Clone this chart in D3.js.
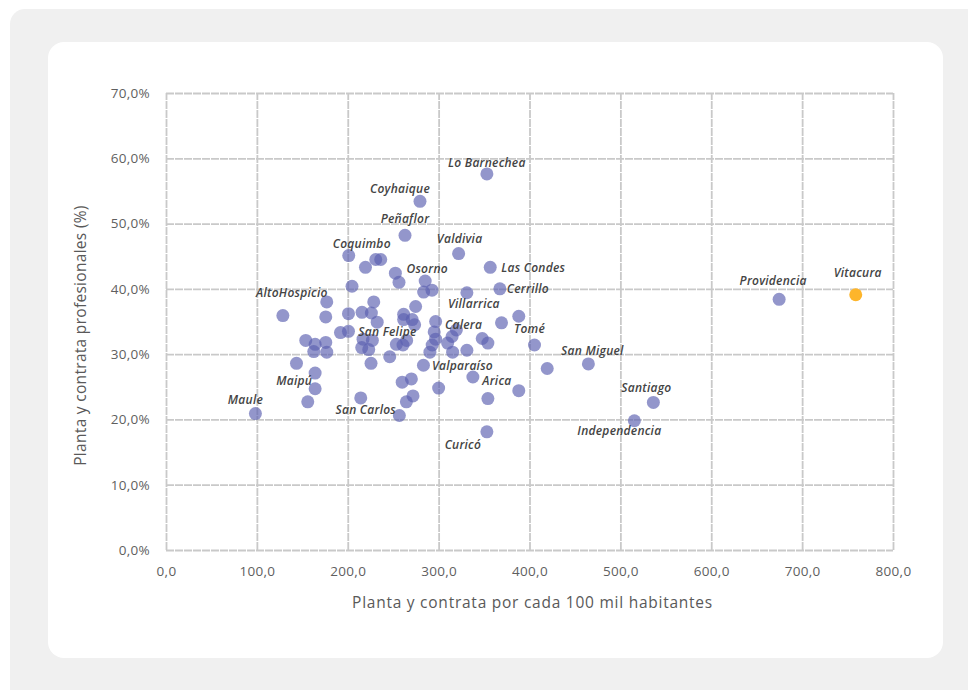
<!DOCTYPE html>
<html>
<head>
<meta charset="utf-8">
<script src="https://cdn.jsdelivr.net/npm/d3@7"></script>
<style>
	body{margin:0;background:#ffffff;}
	svg{display:block;font-family:"Open Sans",sans-serif;}
</style>
</head>
<body>
<div id="ChartPart"></div>
<script>
//Data of the chart-----------------------------------------------------------------------------------------------------------------------
var communes = ["Maule","AltoHospicio","","","","","","","Maipú","","","","","","San Felipe","","","Coquimbo","San Carlos","","",
	"","","","","","","","","","","","","","","","","","","","Peñaflor","","","","","","","","Coyhaique","","Valparaíso","Osorno",
	"","","","","Calera","","","","","","","Valdivia","Villarrica","","Arica","","Lo Barnechea","Curicó","","","Las Condes",
	"Cerrillo","Tomé","","","","","San Miguel","Independencia","Santiago","Providencia","Vitacura"];

var perHabitants = [98.4,128.6,143.6,153.8,156.0,162.6,164.1,164.1,164.1,175.8,176.9,175.8,176.9,192.0,200.8,200.8,204.7,201.1,214.3,215.4,215.7,
	216.8,219.5,223.1,226.0,225.6,227.1,228.6,230.8,236.3,232.4,246.2,252.4,253.5,256.4,256.8,259.9,260.8,261.5,261.5,263.0,264.8,264.5,270.0,270.9,271.8,273.6,274.7,279.5,283.5,283.3,285.2,
	290.4,292.7,292.9,295.1,296.7,296.7,300.0,309.9,314.8,315.4,319.5,322.0,331.1,331.1,337.7,348.0,353.1,353.1,354.2,354.2,356.8,
	367.4,369.2,388.2,388.2,405.5,419.5,464.8,515.4,536.3,674.7,759.0];

var professionals = [20.9,35.9,28.6,32.1,22.7,30.4,31.5,27.1,24.7,31.8,30.3,35.7,38.0,33.3,33.5,36.2,40.4,45.1,23.3,31.0,36.4,
	32.3,43.3,30.7,36.3,28.6,32.1,38.0,44.5,44.5,34.9,29.6,42.4,31.5,41.0,20.6,25.7,31.4,36.1,35.3,48.2,32.1,22.7,26.2,35.3,23.6,34.5,37.3,53.4,39.5,28.3,41.2,
	30.3,39.8,31.4,33.4,35.0,32.3,24.8,31.7,32.7,30.3,33.7,45.4,39.4,30.6,26.5,32.4,57.6,18.1,31.7,23.2,43.3,
	40.0,34.8,35.8,24.4,31.4,27.8,28.5,19.8,22.6,38.4,39.1];

var highlighted = "Vitacura";

var xTicks = [0,100,200,300,400,500,600,700,800];
var yTicks = [0,10,20,30,40,50,60,70];

//Label placement (pixel shift of the label centre from its point)----------------------------------------------------------------------
var labelShift = {
	"Lo Barnechea":[0,-11], "Coyhaique":[-20,-13], "Peñaflor":[0,-17], "Valdivia":[1,-15], "Coquimbo":[13,-12],
	"Osorno":[2,-13], "Las Condes":[43,0], "Cerrillo":[28,0], "Villarrica":[7,11], "AltoHospicio":[9,-23],
	"San Felipe":[39,0], "Calera":[28,3], "Tomé":[28,6], "Valparaíso":[39,0], "Arica":[24,4], "Maipú":[-21,-8],
	"Maule":[-10,-14], "San Carlos":[5,12], "Curicó":[-24,13], "San Miguel":[4,-13], "Santiago":[-7,-15],
	"Independencia":[-15,10], "Providencia":[-6,-19], "Vitacura":[2,-22]
};

var Width = 968;
var Height = 690;
var PlotLeft = 166, PlotRight = 893, PlotTop = 93, PlotBottom = 550;

function FormatNumber(v)
{
	return v.toFixed(1).replace(".",",");
}

//Create the svg and background panels---------------------------------------------------------------------------------------------------
var Svg = d3.select("#ChartPart")
	.append("svg")
	.attr("width",Width)
	.attr("height",Height);

Svg.append("rect")
	.attr("x",10)
	.attr("y",9)
	.attr("width",Width+20)
	.attr("height",Height+20)
	.attr("rx",15)
	.style("fill","#f0f0f0");

Svg.append("rect")
	.attr("x",48)
	.attr("y",42)
	.attr("width",895)
	.attr("height",616)
	.attr("rx",16)
	.style("fill","#ffffff");

//Scales-----------------------------------------------------------------------------------------------------------------------------------
var xScale = d3.scaleLinear().domain([0,800]).range([PlotLeft,PlotRight]);
var yScale = d3.scaleLinear().domain([0,70]).range([PlotBottom,PlotTop]);

//Grid lines and axes----------------------------------------------------------------------------------------------------------------------
var xAxis = Svg.append("g")
	.attr("transform","translate(0," + PlotBottom + ")")
	.call(d3.axisBottom(xScale)
		.tickValues(xTicks)
		.tickSize(-(PlotBottom-PlotTop))
		.tickPadding(16)
		.tickFormat(FormatNumber));

var yAxis = Svg.append("g")
	.attr("transform","translate(" + PlotLeft + ",0)")
	.call(d3.axisLeft(yScale)
		.tickValues(yTicks)
		.tickSize(-(PlotRight-PlotLeft))
		.tickPadding(16)
		.tickFormat(function(d){ return FormatNumber(d) + "%"; }));

[xAxis,yAxis].forEach(function(ax){
	ax.select(".domain").remove();
	ax.selectAll(".tick line")
		.style("stroke","#c9c9c9")
		.style("stroke-width",1.8)
		.style("stroke-dasharray","8,1");
	ax.selectAll(".tick text")
		.style("font-family","'Open Sans',sans-serif")
		.style("font-size","13.5px")
		.style("letter-spacing","0.3px")
		.style("fill","#5f5f5f");
});

//Axis titles-----------------------------------------------------------------------------------------------------------------------------
Svg.append("text")
	.attr("x",(PlotLeft+PlotRight)/2 + 3)
	.attr("y",608)
	.attr("text-anchor","middle")
	.style("font-size","15.5px")
	.style("letter-spacing","0.75px")
	.style("fill","#595959")
	.text("Planta y contrata por cada 100 mil habitantes");

Svg.append("text")
	.attr("transform","translate(86," + ((PlotTop+PlotBottom)/2 + 14) + ") rotate(-90)")
	.attr("text-anchor","middle")
	.style("font-size","15.5px")
	.style("letter-spacing","0.3px")
	.style("fill","#595959")
	.text("Planta y contrata profesionales (%)");

//Points----------------------------------------------------------------------------------------------------------------------------------
var Points = d3.range(perHabitants.length);

Svg.append("g")
	.selectAll("circle")
	.data(Points)
	.enter()
	.append("circle")
	.attr("cx",function(i){ return xScale(perHabitants[i]); })
	.attr("cy",function(i){ return yScale(professionals[i]); })
	.attr("r",6.5)
	.style("fill",function(i){ return communes[i]==highlighted ? "#fdb52b" : "#5b5fb0"; })
	.style("opacity",function(i){ return communes[i]==highlighted ? 1 : 0.66; });

//Point labels----------------------------------------------------------------------------------------------------------------------------
Svg.append("g")
	.selectAll("text")
	.data(Points.filter(function(i){ return communes[i]!=""; }))
	.enter()
	.append("text")
	.attr("x",function(i){ return xScale(perHabitants[i]) + labelShift[communes[i]][0]; })
	.attr("y",function(i){ return yScale(professionals[i]) + labelShift[communes[i]][1]; })
	.attr("text-anchor","middle")
	.attr("dominant-baseline","central")
	.style("font-size","12px")
	.style("letter-spacing","0.25px")
	.style("font-style","italic")
	.style("font-weight","600")
	.style("fill","#444444")
	.text(function(i){ return communes[i]; });
</script>
</body>
</html>
